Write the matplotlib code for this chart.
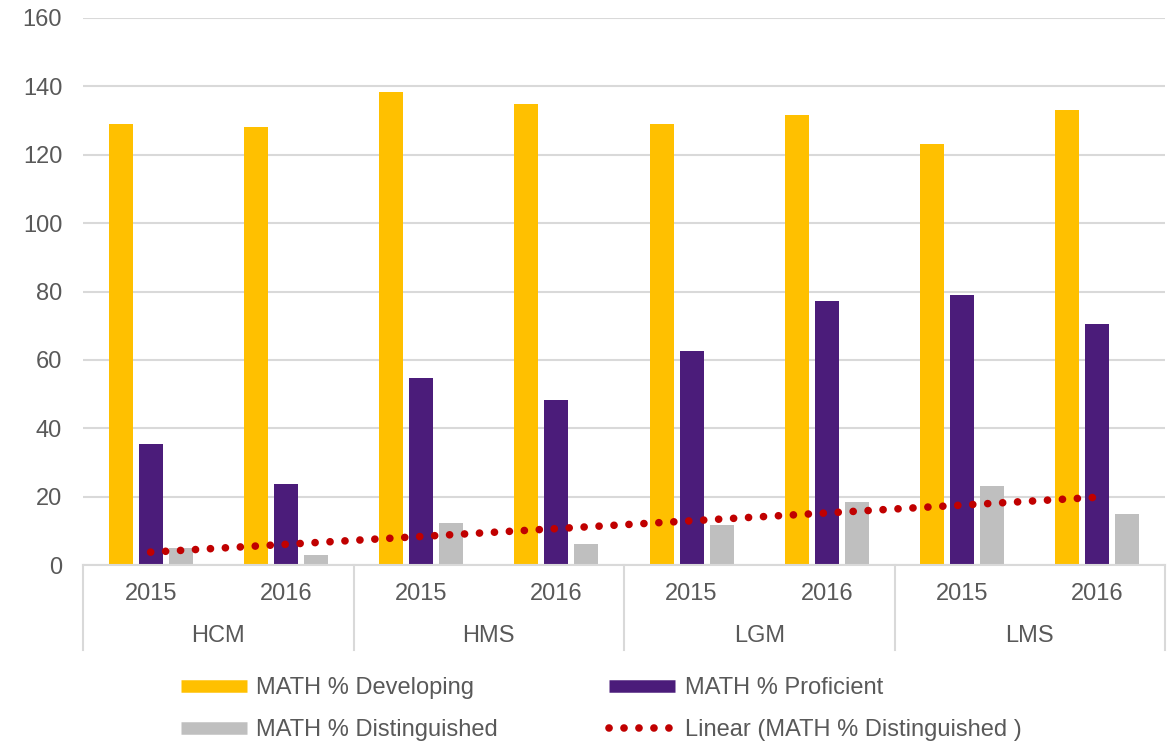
import numpy as np
import matplotlib
matplotlib.use("Agg")
import matplotlib.pyplot as plt
from matplotlib.lines import Line2D

plt.rcParams['font.family'] = ['Liberation Sans', 'DejaVu Sans']

schools = ["HCM", "HMS", "LGM", "LMS"]
years = ["2015", "2016"]
developing = [129.0, 128.0, 138.5, 134.8, 129.1, 131.5, 123.1, 133.0]
proficient = [35.5, 23.8, 54.6, 48.4, 62.6, 77.3, 78.9, 70.4]
distinguished = [5.0, 3.0, 12.3, 6.1, 11.7, 18.3, 23.1, 14.8]

c_dev = "#FFC000"
c_pro = "#4B1C7A"
c_dis = "#BFBFBF"
c_tr = "#C00000"
txt = "#595959"
grid = "#D9D9D9"
fs = 17

fig = plt.figure(figsize=(11.72, 7.43), dpi=100)
ax = fig.add_axes([83/1172, 178/743, (1165-83)/1172, (725-178)/743])

n = len(developing)
x = np.arange(n)
off = 0.222
w = 0.178
ax.bar(x - off, developing, w, color=c_dev, zorder=2)
ax.bar(x, proficient, w, color=c_pro, zorder=2)
ax.bar(x + off, distinguished, w, color=c_dis, zorder=2)

# linear trend of distinguished
coef = np.polyfit(x, distinguished, 1)
dot_ls = (0, (0.01, 1.95))
ax.plot(x, np.polyval(coef, x), color=c_tr, lw=5.5, linestyle=dot_ls,
        dash_capstyle='round', zorder=3)

ax.set_xlim(-0.5, n - 0.5)
ax.set_ylim(0, 160)
ax.set_yticks(np.arange(0, 161, 20))
ax.yaxis.grid(True, color=grid, lw=1.5, zorder=0)
ax.set_axisbelow(True)
for s in ["top", "right", "left"]:
    ax.spines[s].set_visible(False)
ax.spines["bottom"].set_color(grid)
ax.spines["bottom"].set_linewidth(1.5)
ax.tick_params(axis='y', length=0, pad=15, labelsize=fs, labelcolor=txt)
ax.set_xticks([])

tr = ax.get_xaxis_transform()
axh = 547.0
for i in range(n):
    ax.text(x[i], -29/axh, years[i % 2], transform=tr, ha='center', va='center',
            fontsize=fs, color=txt, clip_on=False)
for j, sname in enumerate(schools):
    ax.text(2*j + 0.5, -71/axh, sname, transform=tr, ha='center', va='center',
            fontsize=fs, color=txt, clip_on=False)
for b in range(len(schools) + 1):
    xb = 2*b - 0.5
    ax.add_line(Line2D([xb, xb], [0, -85/axh], transform=tr, color=grid, lw=1.5,
                       clip_on=False))

handles = [
    Line2D([], [], color=c_dev, lw=9, solid_capstyle='butt'),
    Line2D([], [], color=c_dis, lw=9, solid_capstyle='butt'),
    Line2D([], [], color=c_pro, lw=9, solid_capstyle='butt'),
    Line2D([], [], color=c_tr, lw=5.5, linestyle=dot_ls, dash_capstyle='round'),
]
labels = ["MATH % Developing", "MATH % Distinguished", "MATH % Proficient",
          "Linear (MATH % Distinguished )"]
leg = fig.legend(handles, labels, ncol=2, loc='center',
                 bbox_to_anchor=(601/1172, (743-709)/743),
                 frameon=False, fontsize=fs, handlelength=2.8, handletextpad=0.4,
                 columnspacing=4.7, labelspacing=0.83, labelcolor=txt)

fig.savefig("out.png", dpi=100)
